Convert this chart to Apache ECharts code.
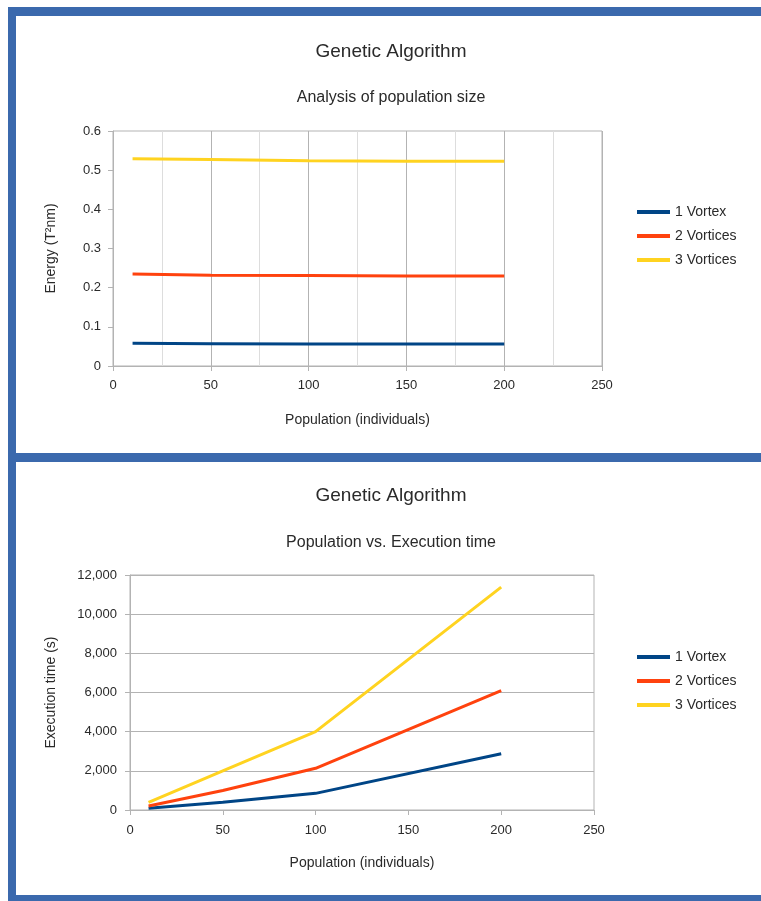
<!DOCTYPE html>
<html>
<head>
<meta charset="utf-8">
<script src="https://cdn.jsdelivr.net/npm/echarts@6/dist/echarts.min.js"></script>
<style>
  html, body { margin: 0; padding: 0; background: #fff; }
  #wrap { position: relative; width: 761px; height: 901px; overflow: hidden; }
  #chart { position: absolute; left: 0; top: 0; width: 761px; height: 901px; }
  .bd { position: absolute; background: #3b69ad; }
</style>
</head>
<body>
<div id="wrap">
  <div class="bd" style="left:8px; top:7px; width:753px; height:9px;"></div>
  <div class="bd" style="left:8px; top:7px; width:8px; height:894px;"></div>
  <div class="bd" style="left:8px; top:453px; width:753px; height:9px;"></div>
  <div class="bd" style="left:8px; top:895px; width:753px; height:6px;"></div>
  <div id="chart"></div>
</div>
<script>
// ---- data ----
const seriesNames = ['1 Vortex', '2 Vortices', '3 Vortices'];
const population = [10, 50, 100, 150, 200];
const energyVortex1 = [0.058, 0.057, 0.056, 0.056, 0.056];
const energyVortices2 = [0.235, 0.232, 0.231, 0.230, 0.230];
const energyVortices3 = [0.529, 0.527, 0.524, 0.523, 0.523];

const popTime = [10, 50, 100, 200];
const timeVortex1 = [85, 400, 850, 2870];
const timeVortices2 = [200, 1000, 2130, 6100];
const timeVortices3 = [390, 2000, 4000, 11380];

const colors = ['#004586', '#ff420e', '#ffd320'];
const FONT = '"Liberation Sans", Arial, sans-serif';
const TXT = '#2a2a2a';
const GRID = '#b3b3b3';

function pairs(xs, ys) { return xs.map((x, i) => [x, ys[i]]); }
function lineSeries(name, data, xi, yi, ci) {
  return {
    name, type: 'line', xAxisIndex: xi, yAxisIndex: yi, data,
    showSymbol: false, symbol: 'none', smooth: false,
    lineStyle: { width: 3, color: colors[ci] }, itemStyle: { color: colors[ci] },
    animation: false
  };
}

const axisLabelStyle = { color: TXT, fontFamily: FONT, fontSize: 13 };
const nameStyle = { color: TXT, fontFamily: FONT, fontSize: 14 };
const legendText = { color: TXT, fontFamily: FONT, fontSize: 14 };

const chart = echarts.init(document.getElementById('chart'), null, { renderer: 'canvas' });
chart.setOption({
  animation: false,
  backgroundColor: 'transparent',
  title: [
    { text: 'Genetic Algorithm', left: 386, top: 37, textAlign: 'center',
      textStyle: { color: TXT, fontFamily: FONT, fontSize: 19, fontWeight: 'normal' } },
    { text: 'Analysis of population size', left: 386, top: 85, textAlign: 'center',
      textStyle: { color: TXT, fontFamily: FONT, fontSize: 16, fontWeight: 'normal' } },
    { text: 'Genetic Algorithm', left: 386, top: 481, textAlign: 'center',
      textStyle: { color: TXT, fontFamily: FONT, fontSize: 19, fontWeight: 'normal' } },
    { text: 'Population vs. Execution time', left: 386, top: 530, textAlign: 'center',
      textStyle: { color: TXT, fontFamily: FONT, fontSize: 16, fontWeight: 'normal' } }
  ],
  legend: [
    { data: seriesNames.map((n, i) => ({ name: n, itemStyle: { color: colors[i] } })),
      left: 637, top: 205, padding: 0, orient: 'vertical', icon: 'rect', itemWidth: 33, itemHeight: 4,
      itemGap: 10, textStyle: legendText },
    { data: seriesNames.map((n, i) => ({ name: n, itemStyle: { color: colors[i] } })),
      left: 637, top: 650, padding: 0, orient: 'vertical', icon: 'rect', itemWidth: 33, itemHeight: 4,
      itemGap: 10, textStyle: legendText }
  ],
  grid: [
    { left: 113, top: 131, width: 489, height: 235, show: true, borderColor: GRID, borderWidth: 1, backgroundColor: 'transparent' },
    { left: 130, top: 575, width: 464, height: 235, show: true, borderColor: GRID, borderWidth: 1, backgroundColor: 'transparent' }
  ],
  xAxis: [
    { type: 'value', gridIndex: 0, min: 0, max: 250, interval: 50,
      name: 'Population (individuals)', nameLocation: 'middle', nameGap: 47, nameTextStyle: nameStyle,
      axisLine: { show: true, lineStyle: { color: GRID } },
      axisTick: { show: true, length: 5, lineStyle: { color: GRID } },
      minorTick: { show: false, splitNumber: 2 },
      axisLabel: Object.assign({ margin: 13 }, axisLabelStyle),
      splitLine: { show: true, lineStyle: { color: GRID } },
      minorSplitLine: { show: true, lineStyle: { color: '#dddddd' } } },
    { type: 'value', gridIndex: 1, min: 0, max: 250, interval: 50,
      name: 'Population (individuals)', nameLocation: 'middle', nameGap: 46, nameTextStyle: nameStyle,
      axisLine: { show: true, lineStyle: { color: GRID } },
      axisTick: { show: true, length: 5, lineStyle: { color: GRID } },
      axisLabel: Object.assign({ margin: 14 }, axisLabelStyle),
      splitLine: { show: false } }
  ],
  yAxis: [
    { type: 'value', gridIndex: 0, min: 0, max: 0.6, interval: 0.1,
      name: 'Energy (T²nm)', nameLocation: 'middle', nameGap: 55, nameRotate: 90, nameTextStyle: nameStyle,
      axisLine: { show: true, lineStyle: { color: GRID } },
      axisTick: { show: true, length: 5, lineStyle: { color: GRID } },
      axisLabel: Object.assign({ margin: 12, formatter: v => v === 0 ? '0' : v.toFixed(1) }, axisLabelStyle),
      splitLine: { show: false } },
    { type: 'value', gridIndex: 1, min: 0, max: 12000, interval: 2000,
      name: 'Execution time (s)', nameLocation: 'middle', nameGap: 72, nameRotate: 90, nameTextStyle: nameStyle,
      axisLine: { show: true, lineStyle: { color: GRID } },
      axisTick: { show: true, length: 5, lineStyle: { color: GRID } },
      axisLabel: Object.assign({ margin: 13, formatter: v => v.toLocaleString('en-US') }, axisLabelStyle),
      splitLine: { show: true, lineStyle: { color: GRID } } }
  ],
  series: [
    lineSeries(seriesNames[0], pairs(population, energyVortex1), 0, 0, 0),
    lineSeries(seriesNames[1], pairs(population, energyVortices2), 0, 0, 1),
    lineSeries(seriesNames[2], pairs(population, energyVortices3), 0, 0, 2),
    lineSeries(seriesNames[0], pairs(popTime, timeVortex1), 1, 1, 0),
    lineSeries(seriesNames[1], pairs(popTime, timeVortices2), 1, 1, 1),
    lineSeries(seriesNames[2], pairs(popTime, timeVortices3), 1, 1, 2)
  ]
});
</script>
</body>
</html>
